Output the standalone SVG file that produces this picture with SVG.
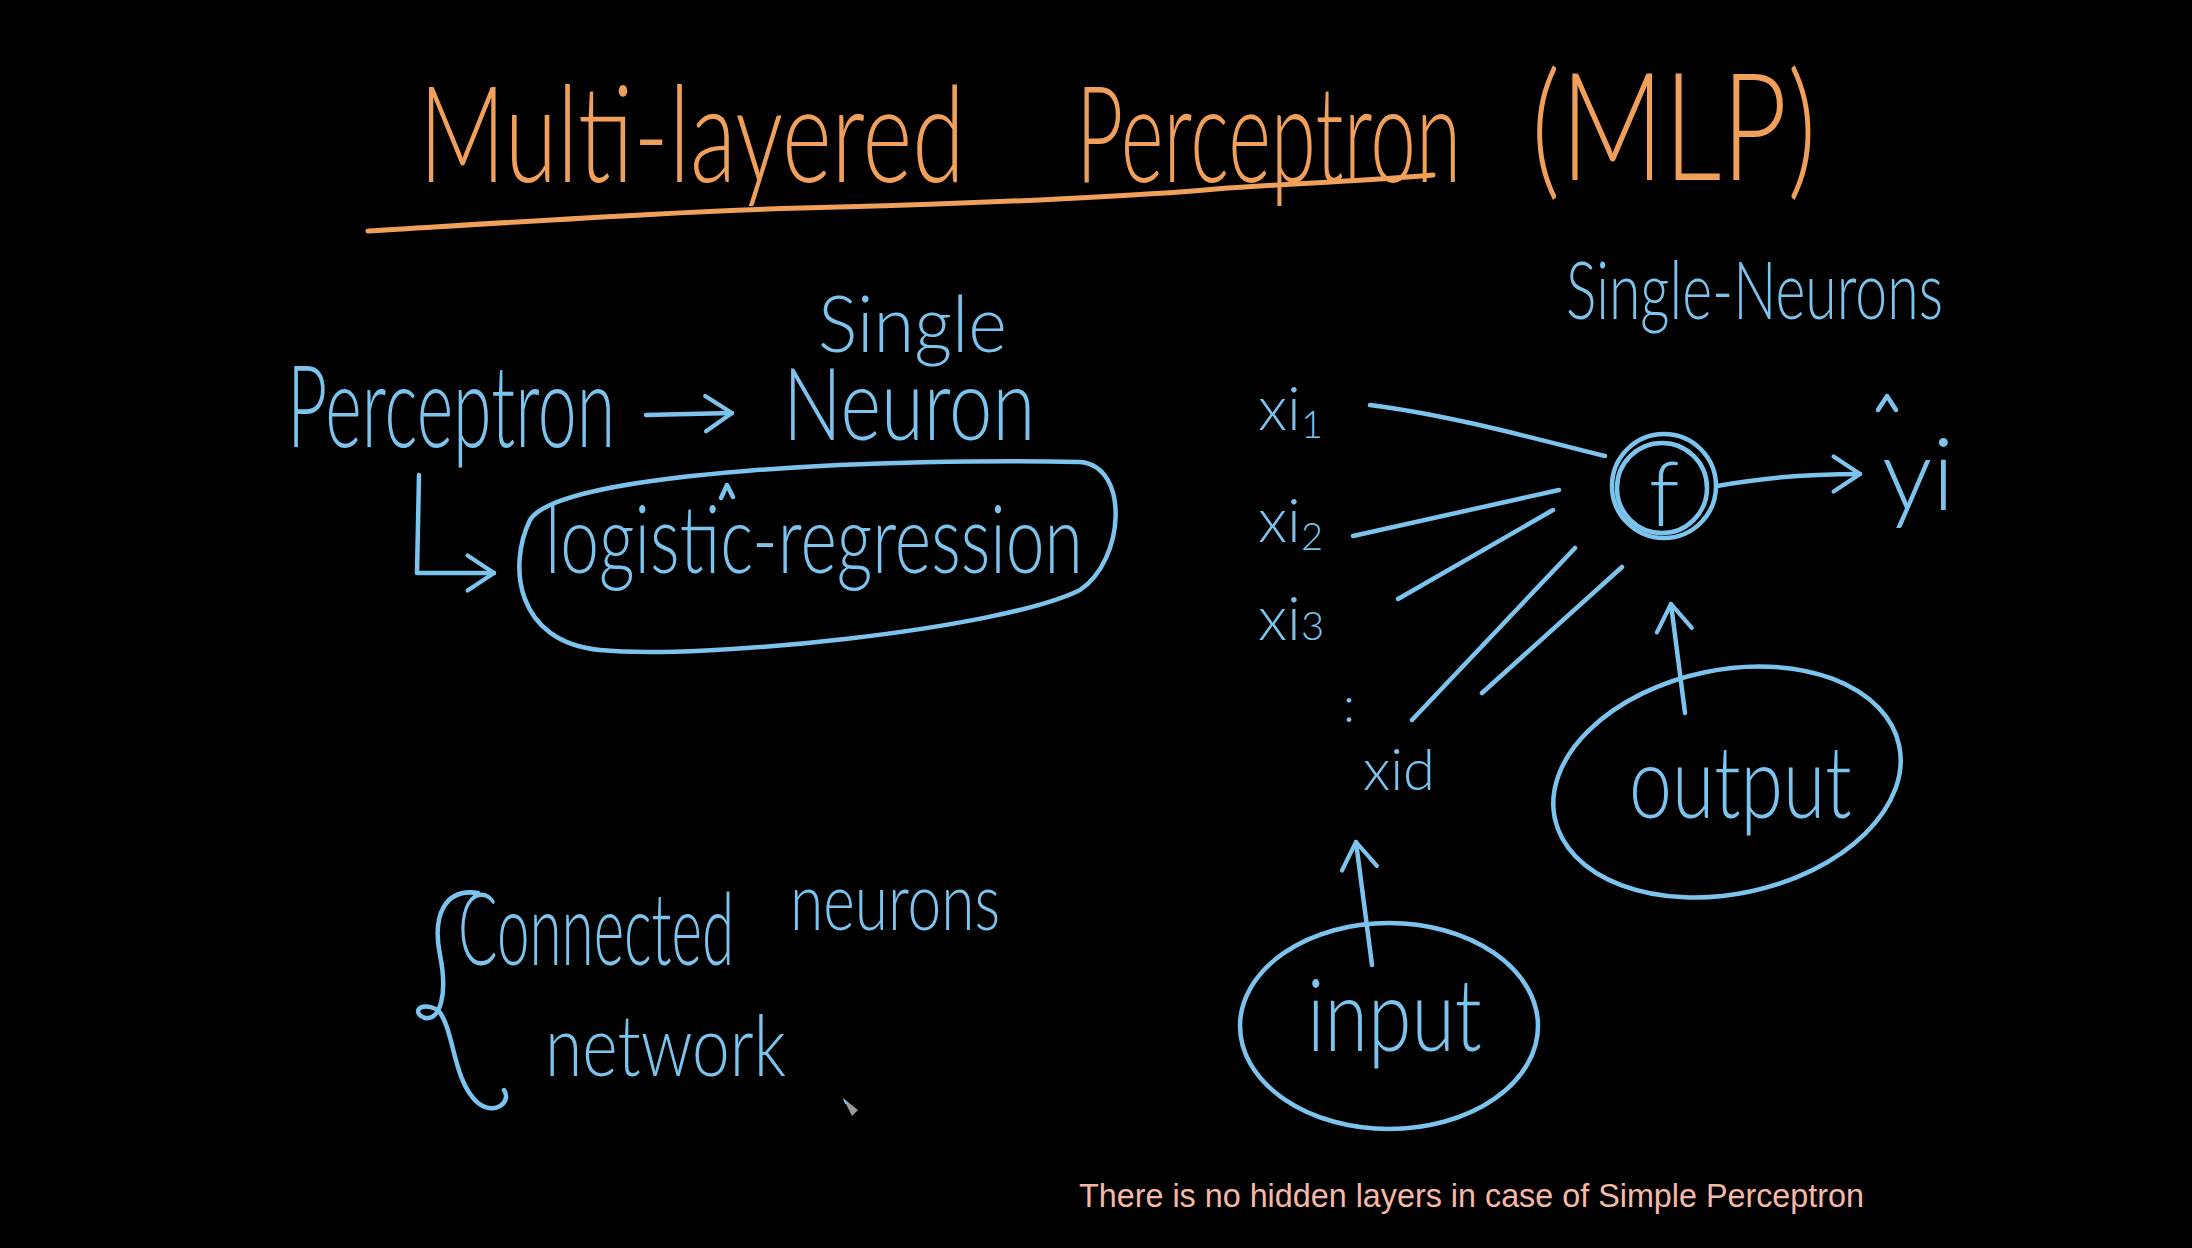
<svg xmlns="http://www.w3.org/2000/svg" width="2192" height="1248" viewBox="0 0 2192 1248">
<style>
.bg{fill:#000}
.or{fill:#F0A05A;font-family:Lato,"Liberation Sans",sans-serif;font-weight:300}
.bl{fill:#7CC4EE;font-family:Lato,"Liberation Sans",sans-serif;font-weight:300}
.ln{fill:none;stroke:#7CC4EE;stroke-width:4.5;stroke-linecap:round;stroke-linejoin:round}
.oln{fill:none;stroke:#F0A05A;stroke-width:5;stroke-linecap:round}
.cap{fill:#F6B9A8;font-family:"Liberation Sans",sans-serif}
</style>
<defs>
<marker id="ah" viewBox="0 0 20 20" refX="18" refY="10" markerWidth="22" markerHeight="22" markerUnits="userSpaceOnUse" orient="auto" overflow="visible">
<path d="M -6 -6 L 18 10 L -6 26" fill="none" stroke="#7CC4EE" stroke-width="3.8" stroke-linecap="round" stroke-linejoin="round"/>
</marker>
</defs>
<rect class="bg" width="2192" height="1248"/>
<g id="title">
<text class="or" transform="translate(419 182) scale(0.69 1)" font-size="135" textLength="791" lengthAdjust="spacingAndGlyphs">Multi-layered</text>
<text class="or" transform="translate(1076 182) scale(0.58 1)" font-size="135" textLength="664" lengthAdjust="spacingAndGlyphs">Perceptron</text>
<text class="or" transform="translate(1531 180) scale(0.75 1)" font-size="150" textLength="381" lengthAdjust="spacingAndGlyphs">(MLP)</text>
<path class="oln" d="M 368 231 C 550 220, 700 210, 839 207 C 1000 203, 1150 195, 1216 189 C 1300 183, 1380 180, 1433 175"/>
</g>
<g id="perceptron">
<text class="bl" transform="translate(287 447) scale(0.58 1)" font-size="115" textLength="566" lengthAdjust="spacingAndGlyphs">Perceptron</text>
</g>
<g id="single-neuron">
<text class="bl" transform="translate(818 352) scale(0.94 1)" font-size="78" textLength="201" lengthAdjust="spacingAndGlyphs">Single</text>
<text class="bl" transform="translate(783 440) scale(0.76 1)" font-size="100" textLength="332" lengthAdjust="spacingAndGlyphs">Neuron</text>
</g>
<g id="logistic-regression">
<path class="ln" d="M 530 520 C 560 470, 900 458, 1080 462 C 1130 466, 1125 560, 1080 590 C 1000 630, 700 660, 600 650 C 515 642, 508 565, 530 520 Z"/>
<text class="bl" transform="translate(545 573) scale(0.72 1)" font-size="95" textLength="747" lengthAdjust="spacingAndGlyphs">logistic-regression</text>
<path class="ln" d="M 721 498 L 727 485 L 733 497"/>
</g>
<g id="single-neurons-label">
<text class="bl" transform="translate(1566 319) scale(0.71 1)" font-size="80" textLength="531" lengthAdjust="spacingAndGlyphs">Single-Neurons</text>
</g>
<g id="inputs">
<text class="bl" x="1258" y="430" font-size="62">xi<tspan font-size="38" dy="8">1</tspan></text>
<text class="bl" x="1258" y="542" font-size="62">xi<tspan font-size="38" dy="8">2</tspan></text>
<text class="bl" x="1258" y="640" font-size="62">xi<tspan font-size="40">3</tspan></text>
<text class="bl" x="1343" y="722" font-size="50">:</text>
<text class="bl" x="1363" y="790" font-size="58">xid</text>
</g>
<g id="neuron">
<circle class="ln" cx="1664" cy="486" r="52"/>
<circle class="ln" cx="1662" cy="488" r="45"/>
<text class="bl" x="1664" y="526" font-size="90" text-anchor="middle">f</text>
</g>
<g id="yhat">
<text class="bl" x="1882" y="510" font-size="100">yi</text>
<path class="ln" d="M 1878 410 L 1887 396 L 1896 410"/>
</g>
<g id="output">
<ellipse class="ln" cx="1727" cy="782" rx="176" ry="112" transform="rotate(-12 1727 782)"/>
<text class="bl" transform="translate(1629 818) scale(0.76 1)" font-size="100" textLength="293" lengthAdjust="spacingAndGlyphs">output</text>
</g>
<g id="input">
<ellipse class="ln" cx="1389" cy="1026" rx="149" ry="103"/>
<text class="bl" transform="translate(1307 1051) scale(0.77 1)" font-size="100" textLength="227" lengthAdjust="spacingAndGlyphs">input</text>
</g>
<g id="connected-network">
<path class="ln" d="M 478 893 C 445 888, 432 915, 440 955 C 448 995, 440 1020, 425 1018 C 412 1014, 418 1000, 438 1010 C 455 1030, 452 1080, 478 1103 C 495 1116, 512 1102, 504 1090"/>
<text class="bl" transform="translate(458 965) scale(0.58 1)" font-size="100" textLength="476" lengthAdjust="spacingAndGlyphs">Connected</text>
<text class="bl" transform="translate(790 930) scale(0.74 1)" font-size="80" textLength="284" lengthAdjust="spacingAndGlyphs">neurons</text>
<text class="bl" transform="translate(545 1076) scale(0.78 1)" font-size="85" textLength="309" lengthAdjust="spacingAndGlyphs">network</text>
</g>
<g id="connectors">
<path class="ln" d="M 646 415 L 732 413" marker-end="url(#ah)"/>
<path class="ln" d="M 419 475 L 417 573 L 494 573" marker-end="url(#ah)"/>
<path class="ln" d="M 1370 405 C 1450 415, 1540 440, 1605 456"/>
<path class="ln" d="M 1353 536 L 1559 490"/>
<path class="ln" d="M 1398 599 L 1553 510"/>
<path class="ln" d="M 1412 720 L 1575 548"/>
<path class="ln" d="M 1482 693 L 1622 567"/>
<path class="ln" d="M 1717 486 C 1770 476, 1820 474, 1860 474" marker-end="url(#ah)"/>
<path class="ln" d="M 1685 713 L 1671 604" marker-end="url(#ah)"/>
<path class="ln" d="M 1372 965 L 1356 842" marker-end="url(#ah)"/>
</g>
<g id="caption">
<text class="cap" x="1079" y="1207" font-size="33" textLength="785" lengthAdjust="spacingAndGlyphs">There is no hidden layers in case of Simple Perceptron</text>
</g>
<g id="cursor">
<path d="M 843 1098 L 858 1110 L 852 1116 Z" fill="#9a9a9a"/>
<path d="M 843 1098 L 848 1103 L 845 1104 Z" fill="#7CC4EE"/>
</g>
</svg>
